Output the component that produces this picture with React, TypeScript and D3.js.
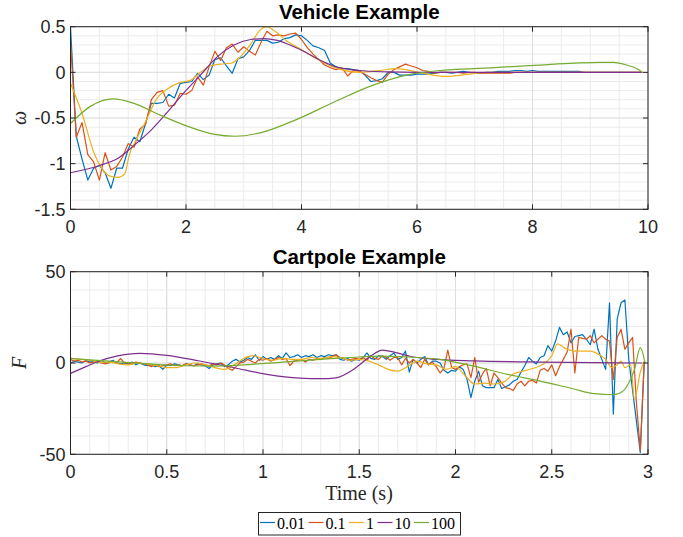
import React from "react";
import * as d3 from "d3";

const SERIES_NAMES = ["0.01", "0.1", "1", "10", "100"];
const SERIES_COLORS = ["#0072BD", "#D95319", "#EDB120", "#7E2F8E", "#77AC30"];

// ---------- Vehicle example (omega vs time) ----------
const VEH_DT = 0.1;
const vehBlue = [
  0.5, -0.7, -0.95, -1.18, -1.05, -1.02, -1.1, -1.27, -1.05, -1.05,
  -0.84, -0.71, -0.76, -0.56, -0.34, -0.34, -0.33, -0.24, -0.28, -0.12,
  -0.11, -0.1, -0.01, -0.08, -0.03, 0.14, 0.16, 0.07, -0.01, 0.15,
  0.17, 0.24, 0.35, 0.35, 0.35, 0.32, 0.33, 0.37, 0.38, 0.41,
  0.4, 0.35, 0.29, 0.27, 0.24, 0.1, 0.06, 0.04, 0.04, 0.03,
  0.02, -0.03, -0.1, -0.09, -0.07, 0.0, 0.0, -0.03, -0.03, -0.03,
  -0.02, -0.02, -0.02, -0.01, 0.0, 0.0, -0.01, 0.0, 0.01, 0.0,
  -0.01, -0.01, 0.0, 0.0, 0.01, 0.01, 0.01, 0.02, 0.02, 0.01,
  0.02, 0.01, 0.01, 0.01, 0.01, 0.01, 0.01, 0.01, 0.01, 0.0,
  0.0, 0.0, 0.0, 0.0, 0.0, 0.0, 0.0, 0.0, 0.0, 0.0,
];
const vehRed = [
  0.33, -0.71, -0.55, -0.9, -0.98, -1.18, -0.88, -1.07, -1.03, -0.93,
  -0.78, -0.82, -0.62, -0.57, -0.3, -0.22, -0.2, -0.37, -0.36, -0.23,
  -0.24, -0.2, -0.05, -0.14, 0.06, 0.23, 0.13, 0.27, 0.31, 0.22,
  0.28, 0.23, 0.19, 0.33, 0.45, 0.4, 0.41, 0.4, 0.42, 0.43,
  0.36, 0.27, 0.2, 0.14, 0.08, 0.05, 0.03, 0.05, -0.04, 0.02,
  0.01, -0.02, -0.06, -0.09, -0.11, -0.02, 0.03, 0.06, 0.09, 0.07,
  0.05, 0.02, 0.01, -0.01, 0.0, 0.0, 0.0, 0.0, -0.01, 0.0,
  0.0, -0.01, -0.01, -0.01, -0.01, -0.01, -0.01, 0.0, 0.0, 0.0,
  0.0, 0.0, 0.0, 0.0, 0.0, 0.0, 0.0, 0.0, 0.0, 0.0,
  0.0, 0.0, 0.0, 0.0, 0.0, 0.0, 0.0, 0.0, 0.0, 0.0,
];
const vehYellowT = [0, 0.2, 0.4, 0.55, 0.7, 0.83, 0.94, 1.02, 1.12, 1.3, 1.49, 1.66, 1.9, 2.07, 2.25, 2.42, 2.6, 2.78, 2.94, 3.11, 3.28, 3.4, 3.52, 3.75, 3.97, 4.26, 4.55, 5.0, 5.35, 5.65, 5.8, 6.1, 6.5, 6.9, 7.2, 8.0, 9.9];
const vehYellow = [-0.12, -0.45, -0.87, -1.06, -1.14, -1.15, -1.11, -0.9, -0.76, -0.54, -0.29, -0.19, -0.11, -0.09, 0.0, 0.07, 0.09, 0.1, 0.17, 0.3, 0.46, 0.5, 0.46, 0.34, 0.26, 0.15, 0.06, 0.0, 0.02, 0.04, 0.03, -0.01, -0.045, -0.02, 0.0, 0.0, 0.0];
const vehPurpleT = [0, 0.5, 0.8, 1.1, 1.4, 1.7, 1.97, 2.25, 2.54, 2.83, 3.12, 3.35, 3.58, 3.87, 4.07, 4.3, 4.55, 5.0, 5.5, 6.0, 9.9];
const vehPurple = [-1.1, -1.02, -0.95, -0.8, -0.63, -0.42, -0.22, -0.03, 0.17, 0.3, 0.36, 0.37, 0.35, 0.28, 0.22, 0.14, 0.07, 0.02, 0.005, 0.0, 0.0];
const vehGreenT = [0, 0.35, 0.74, 1.1, 1.49, 2.07, 2.5, 2.85, 3.3, 3.9, 4.55, 5.24, 5.82, 6.4, 6.98, 7.55, 8.13, 8.71, 9.17, 9.4, 9.63, 9.86, 9.9];
const vehGreen = [-0.56, -0.37, -0.29, -0.34, -0.45, -0.6, -0.68, -0.7, -0.66, -0.52, -0.33, -0.14, -0.03, 0.02, 0.04, 0.06, 0.08, 0.1, 0.11, 0.11, 0.08, 0.02, 0.0];

const vehXTicks = [0, 2, 4, 6, 8, 10];
const vehYTicks = [-1.5, -1, -0.5, 0, 0.5];

// ---------- Cartpole example (F vs time) ----------
const CP_DT = 0.02;
const cpBlue = [
  0, 1, 0.5, 0, 1.5, 0.5, 1, 0, 1.5, 0,
  0.5, 1.5, 0, -0.5, 0, -0.5, 0.5, -1, 0, -1,
  -1.5, -1, -2, -1.5, -3.5, -1, -1.5, -0.5, -1, -1.5,
  -0.5, -1, -1.5, -0.5, -1, -1.5, -3, -1, -0.5, 0,
  -2, -1, 1, 2, 0.5, 1.5, 3, 2, 4.5, 1.5,
  3.5, 2, 3, 2, 4, 2.5, 5.5, 3, 3.5, 4.5,
  3, 4, 3.5, 4.5, 3, 4, 3.5, 4.5, 4, 4.5,
  2, 1.5, 2.5, 1, 2, 1.5, 3, 5.5, 2.5, 2,
  4, 3.5, 2, 4, 5.5, 2, 3, 6.5, -5, 2,
  0, 2, 3.5, -1, 1, 1, 0, -4, -5.5, -4,
  -4.5, -2, -3.5, -9, -19, -10, -4.5, -12.5, -13.5, -13.5,
  -13.5, -9, -14, -13, -12, -10, -9, -5, -1.5, 3,
  1, -0.5, 3, 4, 9.5, 6.5, 12, 19.5, 15.5, 17,
  11, 14.5, 15, 15.5, 13, 10, 18.5, 7.5, 2, -3.5,
  33, -28, 24, 33, 34.5, 2, -15, -32, -49, 0,
];
const cpRed = [
  2, 1, 1.5, 0.5, 1, 0, 0.5, 1, 0, -0.5,
  0, 1, 0, 2.5, 0, 0, -0.5, 0.5, 0, -0.5,
  -1, -2, -1, -2, -1.5, -1, -0.5, -1.5, -1, -1.5,
  -0.5, -1, -1.5, -1, -0.5, -1, -1.5, -0.5, -1, 0,
  -1, -3, -4, -2, 0, 0.5, 2, 1, 0, 2,
  1.5, 2.5, 1, 2, 3, 2, 2.5, -1.5, 1, 1.5,
  2, 0.5, 2, 1.5, 2.5, 2, 3, 2.5, 3.5, 4.5,
  3, 2.5, 1.5, 2, 2.5, 2, 3, 1.5, 4, 2.5,
  2, 4, 3, 1.5, 3, 3, -1, 2.5, 0, 2,
  0, -2.5, 2, -1, 0.5, -2, -5.5, -3, 7, -2.5,
  -3.5, -2, -1, -0.5, -8, 3, -10.5, -6, -3, -12.5,
  -5.5, -8, -11, -13.5, -14, -15, -11.5, -10, -12.5, -10,
  -9.5, -11, -4, -3, -4.5, -1, -7, -2, 2, 6,
  18.5, -5.5, 14, 13.5, 13, 15, 11, 13, 15, 13,
  12, -9, 14, 18.5, 7.5, 11, 14, -22, -48, 0,
];
const cpYellowT = [0, 0.05, 0.1, 0.15, 0.2, 0.25, 0.3, 0.35, 0.4, 0.45, 0.5, 0.55, 0.6, 0.65, 0.7, 0.75, 0.8, 0.85, 0.9, 0.95, 1.0, 1.05, 1.1, 1.15, 1.2, 1.25, 1.3, 1.35, 1.4, 1.45, 1.5, 1.55, 1.6, 1.65, 1.7, 1.75, 1.8, 1.85, 1.9, 1.95, 2.0, 2.05, 2.1, 2.15, 2.2, 2.25, 2.3, 2.35, 2.4, 2.45, 2.5, 2.53, 2.57, 2.62, 2.7, 2.74, 2.78, 2.81, 2.84, 2.86, 2.88, 2.91, 2.93, 2.96, 2.98];
const cpYellow = [2.5, 2, 1.5, 0.5, 0.5, -0.5, -1, 0, -0.5, -1.5, -2.5, -2.5, -1, 0, -1, -2.5, -3.5, -1, 2.5, 4, 2.5, 1.5, 2.5, 2, 2, 3, 2.5, 3.5, 3, 1.5, 2, 1, -1, -3.5, -4.5, -2, 1, -0.5, -1, -3.5, -2, -7, -11.5, -11, -11.5, -10.5, -6, -4.5, -3, -1, 4, 10.5, 8, 6.5, 6.5, 5, 2, -2.5, -1, 1, -2.5, -1, -20, -5, 1];
const cpPurpleT = [0, 0.08, 0.15, 0.24, 0.36, 0.5, 0.67, 0.85, 1.02, 1.19, 1.3, 1.38, 1.47, 1.56, 1.62, 1.69, 1.78, 1.9, 2.1, 2.45, 2.97];
const cpPurple = [-5.7, -2, 1.1, 3.8, 5.3, 4.2, 1.1, -2.6, -6.2, -8.3, -8.6, -8.1, -3.5, 3.8, 7.1, 5.7, 3.3, 2, 1.2, 0.5, 0];
const cpGreenT = [0, 0.2, 0.4, 0.6, 0.75, 0.9, 1.1, 1.3, 1.5, 1.6, 1.75, 1.92, 2.09, 2.27, 2.44, 2.61, 2.72, 2.82, 2.87, 2.9, 2.93, 2.96, 2.985];
const cpGreen = [2.5, 1, -0.5, -1.5, -1.7, -1, 0.5, 2, 3.3, 3.8, 3.3, 2, -1.6, -6.2, -9.9, -14.1, -16.8, -17.4, -15.4, -11, -3.5, 8.4, -0.2];

const cpXTicks = [0, 0.5, 1, 1.5, 2, 2.5, 3];
const cpYTicks = [-50, 0, 50];

type Pt = [number, number];
const uniform = (vals: number[], dt: number): Pt[] => vals.map((v, i) => [i * dt, v]);
const paired = (t: number[], v: number[]): Pt[] => t.map((tt, i) => [tt, v[i]]);

const SANS = "'Liberation Sans', Arial, Helvetica, sans-serif";
const SERIF = "'Liberation Serif', 'Times New Roman', serif";
const AX = "#262626";

type Series = { pts: Pt[]; color: string; curve: d3.CurveFactory };

function Axes(props: {
  id: string;
  box: { l: number; r: number; t: number; b: number };
  xDomain: [number, number];
  yDomain: [number, number];
  xTicks: number[];
  yTicks: number[];
  xMinor: number[];
  yMinor: number[];
  series: Series[];
  title: string;
  titleY: number;
  ylabel: string;
}) {
  const { id, box, xDomain, yDomain, xTicks, yTicks, xMinor, yMinor, series, title, titleY, ylabel } = props;
  const x = d3.scaleLinear().domain(xDomain).range([box.l, box.r]);
  const y = d3.scaleLinear().domain(yDomain).range([box.b, box.t]);
  const tl = 5;
  return (
    <g>
      <defs>
        <clipPath id={id}>
          <rect x={box.l} y={box.t} width={box.r - box.l} height={box.b - box.t} />
        </clipPath>
      </defs>
      <rect x={box.l} y={box.t} width={box.r - box.l} height={box.b - box.t} fill="#fff" />
      {xMinor.map((v, i) => (
        <line key={"xm" + i} x1={x(v)} x2={x(v)} y1={box.t} y2={box.b} stroke="#ebebeb" strokeWidth={1} />
      ))}
      {yMinor.map((v, i) => (
        <line key={"ym" + i} x1={box.l} x2={box.r} y1={y(v)} y2={y(v)} stroke="#ebebeb" strokeWidth={1} />
      ))}
      {xTicks.map((v, i) => (
        <line key={"xg" + i} x1={x(v)} x2={x(v)} y1={box.t} y2={box.b} stroke="#dedede" strokeWidth={1} />
      ))}
      {yTicks.map((v, i) => (
        <line key={"yg" + i} x1={box.l} x2={box.r} y1={y(v)} y2={y(v)} stroke="#dedede" strokeWidth={1} />
      ))}
      <g clipPath={`url(#${id})`}>
        {series.map((s, i) => {
          const line = d3
            .line<Pt>()
            .x((d) => x(d[0]))
            .y((d) => y(d[1]))
            .curve(s.curve);
          return <path key={i} d={line(s.pts) || ""} fill="none" stroke={s.color} strokeWidth={1.2} strokeLinejoin="round" />;
        })}
      </g>
      <rect x={box.l} y={box.t} width={box.r - box.l} height={box.b - box.t} fill="none" stroke={AX} strokeWidth={1} />
      {xTicks.map((v, i) => (
        <g key={"xt" + i}>
          <line x1={x(v)} x2={x(v)} y1={box.b} y2={box.b - tl} stroke={AX} />
          <line x1={x(v)} x2={x(v)} y1={box.t} y2={box.t + tl} stroke={AX} />
          <text x={x(v)} y={box.b + 24} textAnchor="middle" fontFamily={SANS} fontSize={18} fill={AX}>
            {String(v)}
          </text>
        </g>
      ))}
      {yTicks.map((v, i) => (
        <g key={"yt" + i}>
          <line x1={box.l} x2={box.l + tl} y1={y(v)} y2={y(v)} stroke={AX} />
          <line x1={box.r} x2={box.r - tl} y1={y(v)} y2={y(v)} stroke={AX} />
          <text x={box.l - 5} y={y(v) + 6.3} textAnchor="end" fontFamily={SANS} fontSize={18} fill={AX}>
            {String(v)}
          </text>
        </g>
      ))}
      <text x={(box.l + box.r) / 2} y={titleY} textAnchor="middle" fontFamily={SANS} fontWeight="bold" fontSize={20.5} fill="#000">
        {title}
      </text>
      <text
        transform={`translate(26,${(box.t + box.b) / 2}) rotate(-90)`}
        textAnchor="middle"
        fontFamily={SERIF}
        fontStyle="italic"
        fontSize={20}
        fill={AX}
      >
        {ylabel}
      </text>
    </g>
  );
}

export default function App() {
  const colorOf = (i: number) => SERIES_COLORS[i];
  const vehSeries: Series[] = [
    { pts: uniform(vehBlue, VEH_DT), color: colorOf(0), curve: d3.curveLinear },
    { pts: uniform(vehRed, VEH_DT), color: colorOf(1), curve: d3.curveLinear },
    { pts: paired(vehYellowT, vehYellow), color: colorOf(2), curve: d3.curveMonotoneX },
    { pts: paired(vehPurpleT, vehPurple), color: colorOf(3), curve: d3.curveMonotoneX },
    { pts: paired(vehGreenT, vehGreen), color: colorOf(4), curve: d3.curveMonotoneX },
  ];
  const cpSeries: Series[] = [
    { pts: uniform(cpBlue, CP_DT), color: colorOf(0), curve: d3.curveLinear },
    { pts: uniform(cpRed, CP_DT), color: colorOf(1), curve: d3.curveLinear },
    { pts: paired(cpYellowT, cpYellow), color: colorOf(2), curve: d3.curveMonotoneX },
    { pts: paired(cpPurpleT, cpPurple), color: colorOf(3), curve: d3.curveMonotoneX },
    { pts: paired(cpGreenT, cpGreen), color: colorOf(4), curve: d3.curveMonotoneX },
  ];

  const legendItems = SERIES_NAMES.map((name, i) => ({ name, color: SERIES_COLORS[i] }));
  const textW = (s: string) => s.replace(/[^0-9]/g, "").length * 8 + (s.includes(".") ? 4 : 0);
  let cx = 260;
  const legendLayout = legendItems.map((it) => {
    const pos = cx;
    cx += 17 + textW(it.name) + 3.5;
    return { ...it, x: pos };
  });

  return (
    <svg width={683} height={537} style={{ position: "absolute", left: 0, top: 0, background: "#fff" }}>
      <rect x={0} y={0} width={683} height={537} fill="#fff" />
      <Axes
        id="clipVeh"
        box={{ l: 70.5, r: 648, t: 26.7, b: 209.3 }}
        xDomain={[0, 10]}
        yDomain={[-1.5, 0.5]}
        xTicks={vehXTicks}
        yTicks={vehYTicks}
        xMinor={d3.range(0, 10.01, 0.5)}
        yMinor={d3.range(-15, 6).map((k) => k / 10)}
        series={vehSeries}
        title="Vehicle Example"
        titleY={18.5}
        ylabel="ω"
      />
      <Axes
        id="clipCp"
        box={{ l: 70.5, r: 648, t: 271.7, b: 454.3 }}
        xDomain={[0, 3]}
        yDomain={[-50, 50]}
        xTicks={cpXTicks}
        yTicks={cpYTicks}
        xMinor={d3.range(0, 31).map((k) => k / 10)}
        yMinor={d3.range(-50, 51, 10)}
        series={cpSeries}
        title="Cartpole Example"
        titleY={264.3}
        ylabel="F"
      />
      <text x={359} y={499.5} textAnchor="middle" fontFamily={SERIF} fontSize={20} fill={AX}>
        Time (s)
      </text>
      <rect x={258.5} y={512.5} width={202} height={22.5} fill="#fff" stroke={AX} strokeWidth={1} />
      {legendLayout.map((it, i) => (
        <g key={i}>
          <line x1={it.x} x2={it.x + 15} y1={522.5} y2={522.5} stroke={it.color} strokeWidth={1.2} />
          <text x={it.x + 17} y={528.5} fontFamily={SERIF} fontSize={16} fill="#000">
            {it.name}
          </text>
        </g>
      ))}
    </svg>
  );
}
